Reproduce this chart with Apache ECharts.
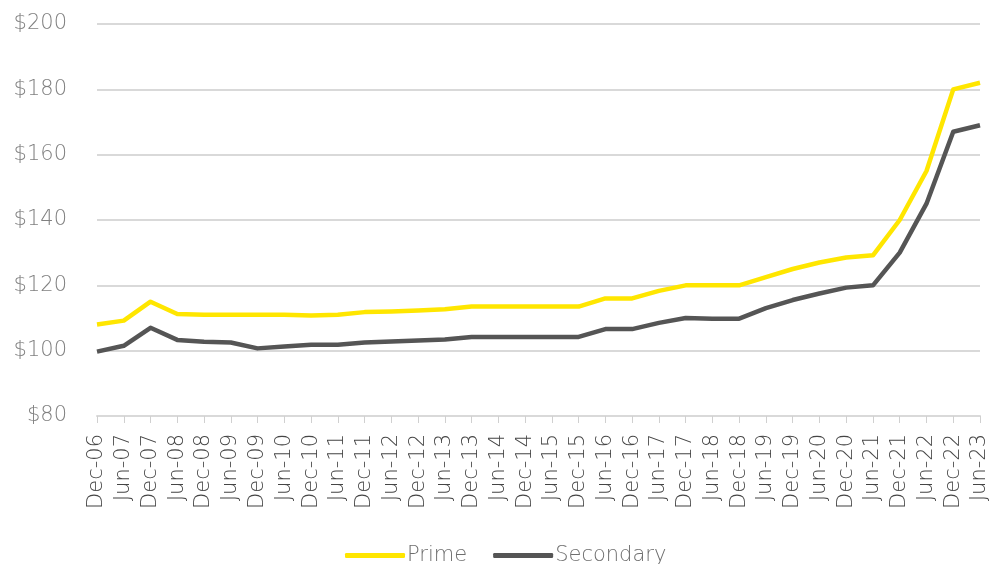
<!DOCTYPE html>
<html>
<head>
<meta charset="utf-8">
<style>
  html, body { margin: 0; padding: 0; background: #ffffff; }
  #chart { width: 992px; height: 564px; }
</style>
<script src="https://cdn.jsdelivr.net/npm/echarts@6/dist/echarts.min.js"></script>
</head>
<body>
<div id="chart"></div>
<script>
// Half-yearly periods
const periods = [
  'Dec-06','Jun-07','Dec-07','Jun-08','Dec-08','Jun-09','Dec-09','Jun-10',
  'Dec-10','Jun-11','Dec-11','Jun-12','Dec-12','Jun-13','Dec-13','Jun-14',
  'Dec-14','Jun-15','Dec-15','Jun-16','Dec-16','Jun-17','Dec-17','Jun-18',
  'Dec-18','Jun-19','Dec-19','Jun-20','Dec-20','Jun-21','Dec-21','Jun-22',
  'Dec-22','Jun-23'
];

const prime = [
  108, 109.2, 115, 111.2, 111, 111, 111, 111,
  110.8, 111, 111.8, 112, 112.3, 112.7, 113.5, 113.5,
  113.5, 113.5, 113.5, 116, 116, 118.3, 120, 120,
  120, 122.5, 125, 127, 128.5, 129.2, 140, 155,
  180, 182
];

const secondary = [
  99.7, 101.5, 107, 103.3, 102.7, 102.5, 100.7, 101.3,
  101.8, 101.8, 102.5, 102.8, 103.1, 103.4, 104.2, 104.2,
  104.2, 104.2, 104.2, 106.6, 106.6, 108.5, 110, 109.8,
  109.8, 113, 115.5, 117.5, 119.3, 120, 130, 145,
  167, 169
];

const yMin = 80, yMax = 200, yStep = 20;

const FONT = '"DejaVu Sans", sans-serif';

const chart = echarts.init(document.getElementById('chart'), null, { renderer: 'canvas' });

chart.setOption({
  animation: false,
  backgroundColor: '#ffffff',
  grid: { left: 97, right: 12, top: 24, bottom: 148, containLabel: false },
  legend: {
    top: 540,
    left: 340,
    itemWidth: 60,
    itemHeight: 5,
    itemGap: 26,
    icon: 'roundRect',
    textStyle: {
      fontFamily: FONT, fontSize: 21, fontWeight: 200,
      color: '#6e6e6e', padding: [0, 0, 0, -3]
    },
    data: ['Prime', 'Secondary']
  },
  xAxis: {
    type: 'category',
    data: periods,
    boundaryGap: false,
    axisLine: { lineStyle: { color: '#d9d9d9', width: 2 } },
    axisTick: { show: true, length: 7, lineStyle: { color: '#d0d0d0', width: 1 } },
    axisLabel: {
      rotate: 90,
      interval: 0,
      margin: 18,
      fontFamily: FONT,
      fontSize: 21,
      fontWeight: 200,
      color: '#454545'
    },
    splitLine: { show: false }
  },
  yAxis: {
    type: 'value',
    min: yMin,
    max: yMax,
    interval: yStep,
    axisLine: { show: false },
    axisTick: { show: false },
    axisLabel: {
      margin: 30,
      fontFamily: FONT,
      fontSize: 21,
      fontWeight: 200,
      color: '#808080',
      formatter: v => '$' + v
    },
    splitLine: { lineStyle: { color: '#d9d9d9', width: 2 } }
  },
  series: [
    {
      name: 'Prime',
      type: 'line',
      data: prime,
      symbol: 'none',
      color: '#ffe600',
      lineStyle: { color: '#ffe600', width: 4.5, join: 'round' }
    },
    {
      name: 'Secondary',
      type: 'line',
      data: secondary,
      symbol: 'none',
      color: '#555555',
      lineStyle: { color: '#555555', width: 4.5, join: 'round' }
    }
  ]
});
</script>
</body>
</html>
